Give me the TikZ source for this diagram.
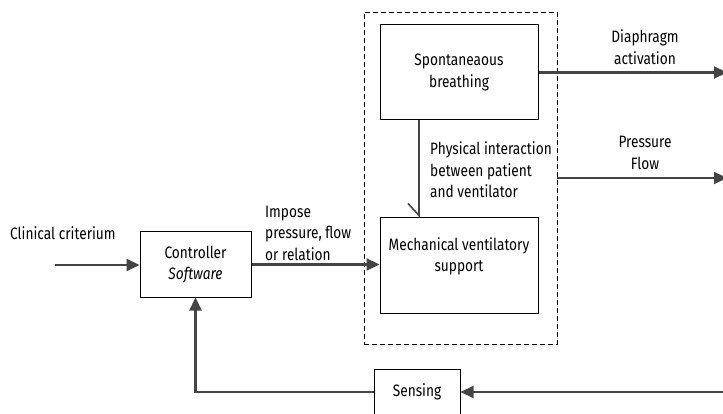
\documentclass[tikz,border=0pt]{standalone}
\usepackage{fontspec}
\setmainfont{Fira Sans}[FakeStretch=0.83]
\usetikzlibrary{positioning}
\usetikzlibrary{arrows.meta}
\definecolor{darkline}{HTML}{444444}

\begin{document}
\begin{tikzpicture}[x=1pt,y=-1pt,
    txt/.style={font=\fontsize{16.5}{21.5}\selectfont, inner sep=0pt},
    block/.style={txt, draw, line width=1pt, align=center},
    flow/.style={draw=darkline, line width=2.2pt, -{Triangle[length=13pt,width=12pt]}},
    touch/.style={draw=darkline, line width=1.6pt, -{Straight Barb[right,length=12pt,width=22pt]}}]
    \useasboundingbox (0,0) rectangle (723,414);
    % boxes
    \node[block, minimum width=111, minimum height=65] (ctrl) at (195.5,264.5) {Controller\\\textit{Software}};
    \node[draw, dash pattern=on 5pt off 3pt, line width=0.9pt, minimum width=193, minimum height=332] (patient) at (460.5,178) {};
    \node[block, minimum width=158, minimum height=95] (spont) at (459,72.5) {Spontaneaous\\breathing};
    \node[block, minimum width=158, minimum height=95] (mech) at (459,265.5) {Mechanical ventilatory\\support\\\mbox{}};
    \node[block, minimum width=86, minimum height=46] (sens) at (417,392) {Sensing};
    % free ends
    \coordinate (crit) at (55,265);
    \coordinate (diaph) at (727,72.5);
    \coordinate (press) at (727,178);
    \coordinate (meas) at (727,392);
    % labels
    \node[txt, anchor=west] (critlbl) at (10,233) {Clinical criterium};
    \node[txt, anchor=west, align=left] (implbl) at (265,233) {Impose\\pressure, flow\\or relation};
    \node[txt, anchor=west, align=left] (phylbl) at (430,170) {Physical interaction\\between patient\\and ventilator};
    \node[txt, align=center] (diaphlbl) at (645,47) {Diaphragm\\activation};
    \node[txt, align=center] (presslbl) at (645,153) {Pressure\\Flow};
    % connectors
    \draw[flow] (crit) -- (ctrl.west |- crit);
    \draw[flow] (ctrl.east) -- (ctrl.east -| mech.west);
    \draw[touch] ([xshift=-40pt]spont.south) -- ([xshift=-40pt]mech.north);
    \draw[flow] (spont.east) -- (diaph);
    \draw[flow] (patient.east) -- (press);
    \draw[flow] (meas) -- (sens.east);
    \draw[flow] (sens.west) -| (ctrl.south);
\end{tikzpicture}
\end{document}
